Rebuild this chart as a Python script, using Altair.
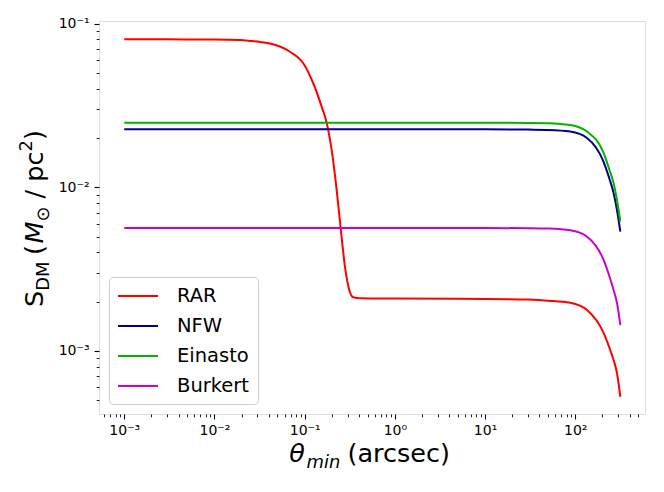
import math
import altair as alt
import pandas as pd

# ---------------- data ----------------
models = ["RAR", "NFW", "Einasto", "Burkert"]
colors = ["#ff0000", "#00008b", "#00b400", "#cc00cc"]

theta_rar = [0.001, 0.003, 0.01, 0.0192, 0.0248, 0.0319, 0.0412, 0.0532, 0.0687,
             0.0965, 0.1245, 0.1543, 0.1754, 0.1992, 0.2264, 0.2506, 0.2798, 0.3122,
             0.3458, 0.41, 1.0, 10.0, 30.0, 50.0, 88.0, 135.0, 206.0, 240.0, 266.0,
             290.0, 316.0]
s_rar = [0.0802, 0.0801, 0.0800, 0.0793, 0.0784, 0.0773, 0.0755, 0.0724, 0.0673,
         0.0572, 0.0432, 0.0311, 0.0248, 0.0169, 0.00963, 0.00566, 0.00327, 0.00236,
         0.00213, 0.00210, 0.00209, 0.00208, 0.00206, 0.00203, 0.00197, 0.00178,
         0.00129, 0.00104, 0.00088, 0.000734, 0.000524]

theta_halo = [0.001, 1.0, 10.0, 30.0, 50.0, 88.0, 135.0, 206.0, 240.0, 266.0, 290.0, 316.0]
s_nfw = [0.0226, 0.0226, 0.0226, 0.0225, 0.0224, 0.0219, 0.0200, 0.0143, 0.0112,
         0.00923, 0.00726, 0.00536]
s_einasto = [0.0248, 0.0248, 0.0248, 0.0247, 0.0246, 0.0240, 0.0219, 0.0162, 0.0127,
             0.0106, 0.00836, 0.00617]
s_burkert = [0.00564, 0.00564, 0.00564, 0.00562, 0.00559, 0.00546, 0.00499, 0.00360,
             0.00284, 0.00236, 0.00197, 0.00144]

x_major = [0.001, 0.01, 0.1, 1, 10, 100]
x_major_labels = ["10⁻³", "10⁻²", "10⁻¹", "10⁰", "10¹", "10²"]
y_major = [0.001, 0.01, 0.1]
y_major_labels = ["10⁻³", "10⁻²", "10⁻¹"]
x_minor = [m * 10.0 ** k for k in range(-4, 3) for m in range(2, 10)]
y_minor = [m * 10.0 ** k for k in range(-4, -1) for m in range(2, 10)]

x_domain = [5.25e-4, 593]
y_domain = [4.12e-4, 0.1037]

rows = []
for t, s in zip(theta_rar, s_rar):
    rows.append({"model": "RAR", "theta": t, "S": s})
for name, vals in [("NFW", s_nfw), ("Einasto", s_einasto), ("Burkert", s_burkert)]:
    for t, s in zip(theta_halo, vals):
        rows.append({"model": name, "theta": t, "S": s})
df = pd.DataFrame(rows)
df["order"] = df["model"].map({m: i for i, m in enumerate(models)})


def label_expr(values, labels):
    expr = "''"
    for v, l in reversed(list(zip(values, labels))):
        expr = f"abs(log(datum.value)/LN10 - ({math.log10(v)})) < 0.01 ? '{l}' : " + expr
    return expr


FONT = "DejaVu Sans"
W, H = 546, 393

xscale = alt.Scale(type="log", domain=x_domain, nice=False)
yscale = alt.Scale(type="log", domain=y_domain, nice=False)

major_x_axis = alt.Axis(values=x_major, labelExpr=label_expr(x_major, x_major_labels),
                        tickSize=5, tickWidth=1.1, tickColor="black", domain=False,
                        grid=False, labelFont=FONT, labelFontSize=14, labelColor="black",
                        labelPadding=4, title=None, orient="bottom")
major_y_axis = alt.Axis(values=y_major, labelExpr=label_expr(y_major, y_major_labels),
                        tickSize=5, tickWidth=1.1, tickColor="black", domain=False,
                        grid=False, labelFont=FONT, labelFontSize=14, labelColor="black",
                        labelPadding=5, title=None, orient="left")
minor_x_axis = alt.Axis(values=x_minor, labels=False, tickSize=2.8, tickWidth=0.9,
                        tickColor="black", domain=False, grid=False, title=None,
                        orient="bottom")
minor_y_axis = alt.Axis(values=y_minor, labels=False, tickSize=2.8, tickWidth=0.9,
                        tickColor="black", domain=False, grid=False, title=None,
                        orient="left")

base = alt.Chart(df)

lines = base.mark_line(strokeWidth=2, interpolate="monotone").encode(
    x=alt.X("theta:Q", scale=xscale, axis=major_x_axis),
    y=alt.Y("S:Q", scale=yscale, axis=major_y_axis),
    color=alt.Color("model:N", scale=alt.Scale(domain=models, range=colors),
                    legend=alt.Legend(orient="bottom-left", offset=10, title=None,
                                      symbolType="M-1,0H3", symbolSize=400,
                                      symbolStrokeWidth=2, labelFontSize=19.5,
                                      labelFont=FONT, labelColor="black",
                                      padding=8, rowPadding=9, labelOffset=38,
                                      fillColor="rgba(255,255,255,0.8)",
                                      strokeColor="#cccccc", cornerRadius=4)),
    order="order:Q",
)

minor = base.mark_line(opacity=0).encode(
    x=alt.X("theta:Q", scale=xscale, axis=minor_x_axis),
    y=alt.Y("S:Q", scale=yscale, axis=minor_y_axis),
    detail="model:N",
)


def piece(text, x, y, size, italic=False, angle=0):
    kw = dict(text=text, font=FONT, fontSize=size, align="left",
              baseline="alphabetic", color="black")
    if italic:
        kw["fontStyle"] = "italic"
    if angle:
        kw["angle"] = angle
    return alt.Chart(alt.Data(values=[{"a": 1}])).mark_text(**kw).encode(
        x=alt.value(x), y=alt.value(y))


BIG, SMALL = 25.5, 17.9
xbase = 441.3
title_parts = [
    piece("θ", 190.3, xbase, BIG, italic=True),
    piece("min", 207.5, xbase + 6, SMALL, italic=True),
    piece("(arcsec)", 248.5, xbase, BIG),
]
yb = -55.7
title_parts += [
    piece("S", yb, 286, BIG, angle=270),
    piece("DM", yb + 6, 269.8, SMALL, angle=270),
    piece("(", yb, 234, BIG, angle=270),
    piece("M", yb, 222.5, BIG, italic=True, angle=270),
    piece("⊙", yb + 6, 200.5, SMALL, angle=270),
    piece("/", yb, 177.4, BIG, angle=270),
    piece("pc", yb, 160.8, BIG, angle=270),
    piece("2", yb - 11, 130.5, SMALL, angle=270),
    piece(")", yb, 119.1, BIG, angle=270),
]

chart = alt.layer(lines, minor, *title_parts).resolve_axis(
    x="independent", y="independent"
).properties(
    width=W, height=H,
    autosize=alt.AutoSizeParams(type="none"),
    padding={"left": 91, "top": 13, "right": 5, "bottom": 60},
).configure_view(stroke="black", strokeWidth=1.1).configure(background="white")

chart.save("out.html", embed_options={"renderer": "svg", "actions": False})
